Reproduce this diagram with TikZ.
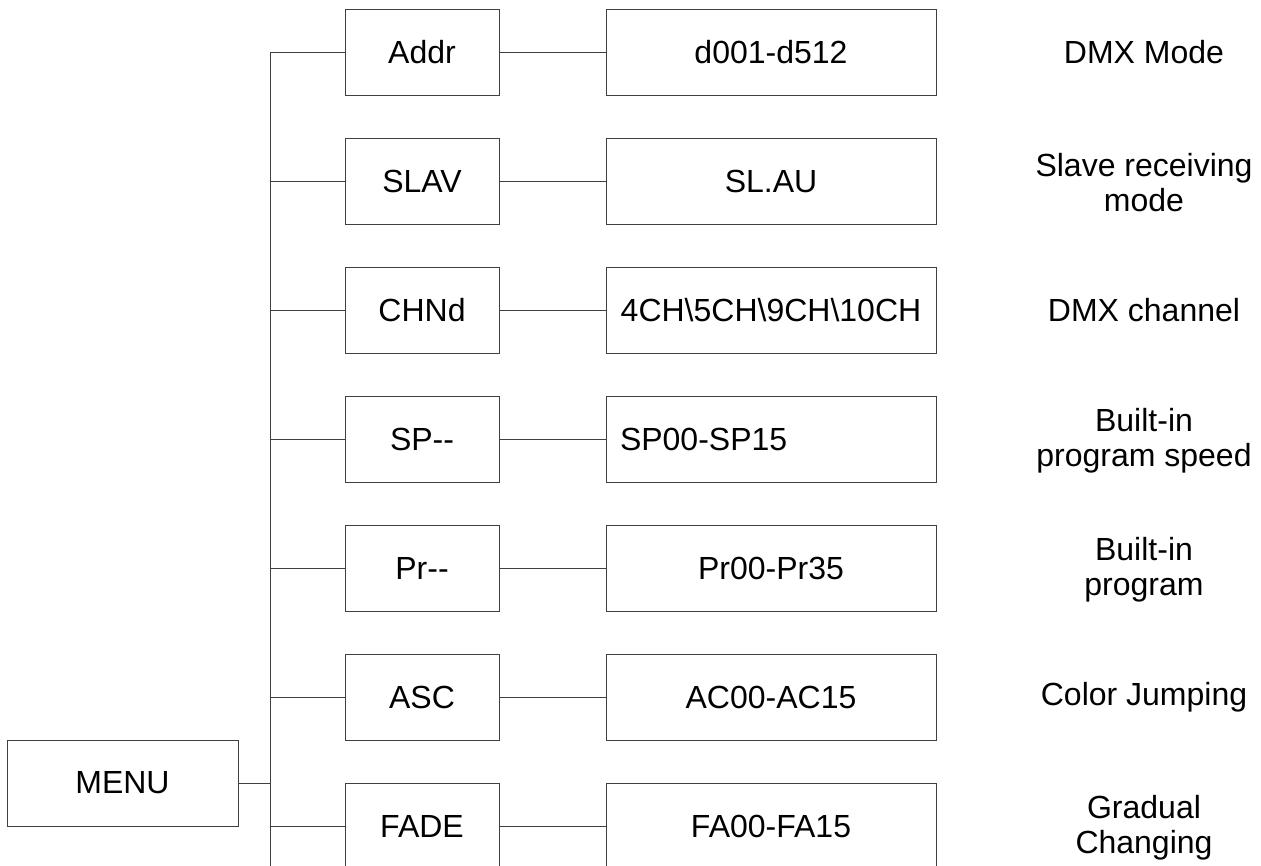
\documentclass[tikz,border=0pt]{standalone}
\usepackage{fontspec}
\setmainfont{Liberation Sans}
\usepackage{tikz}
\tikzset{
  box/.style={draw=black!75,line width=1pt,minimum width=154pt,minimum height=86pt,inner sep=0pt},
  valbox/.style={box,minimum width=330pt},
  leftbox/.style={valbox,text width=302pt,inner xsep=14pt,align=left},
  note/.style={align=center},
  link/.style={draw=black!75,line width=1pt}
}

\begin{document}
\begin{tikzpicture}[x=1pt,y=-1pt,every node/.style={font=\fontsize{32}{35}\selectfont}]
    \useasboundingbox (0,0) rectangle (1261,865);
    \clip (0,0) rectangle (1261,865);

    \node[box,minimum width=231pt] (menu) at (122.5,783) {MENU};
    \coordinate (top) at (270,52);
    \coordinate (bot) at (270,900);

    \node[box] (addr) at (422,52) {Addr};
    \node[box] (slav) at (422,181) {SLAV};
    \node[box] (chnd) at (422,310) {CHNd};
    \node[box] (sp)   at (422,439) {SP-{}-};
    \node[box] (pr)   at (422,568) {Pr-{}-};
    \node[box] (asc)  at (422,697) {ASC};
    \node[box] (fade) at (422,826) {FADE};

    \node[valbox]  (addrval) at (771,52) {d001-d512};
    \node[valbox]  (slavval) at (771,181) {SL.AU};
    \node[valbox]  (chndval) at (771,310) {4CH\textbackslash 5CH\textbackslash 9CH\textbackslash 10CH};
    \node[leftbox] (spval)   at (771,439) {SP00-SP15};
    \node[valbox]  (prval)   at (771,568) {Pr00-Pr35};
    \node[valbox]  (ascval)  at (771,697) {AC00-AC15};
    \node[valbox]  (fadeval) at (771,826) {FA00-FA15};

    \node[note] (addrtxt) at (1144,52) {DMX Mode};
    \node[note] (slavtxt) at (1144,183) {Slave receiving\\mode};
    \node[note] (chndtxt) at (1144,310) {DMX channel};
    \node[note] (sptxt)   at (1144,441) {Built-in\\program speed};
    \node[note] (prtxt)   at (1144,570) {Built-in\\program};
    \node[note] (asctxt)  at (1144,697) {Color Jumping};
    \node[note] (fadetxt) at (1144,828) {Gradual\\Changing};

    % trunk and branches
    \draw[link] (top) -- (bot);
    \draw[link] (menu.east) -- (menu.east -| top);
    \draw[link] (addr.west) -- (addr.west -| top);
    \draw[link] (slav.west) -- (slav.west -| top);
    \draw[link] (chnd.west) -- (chnd.west -| top);
    \draw[link] (sp.west) -- (sp.west -| top);
    \draw[link] (pr.west) -- (pr.west -| top);
    \draw[link] (asc.west) -- (asc.west -| top);
    \draw[link] (fade.west) -- (fade.west -| top);

    \draw[link] (addr) -- (addrval);
    \draw[link] (slav) -- (slavval);
    \draw[link] (chnd) -- (chndval);
    \draw[link] (sp) -- (spval);
    \draw[link] (pr) -- (prval);
    \draw[link] (asc) -- (ascval);
    \draw[link] (fade) -- (fadeval);
  \end{tikzpicture}
\end{document}
